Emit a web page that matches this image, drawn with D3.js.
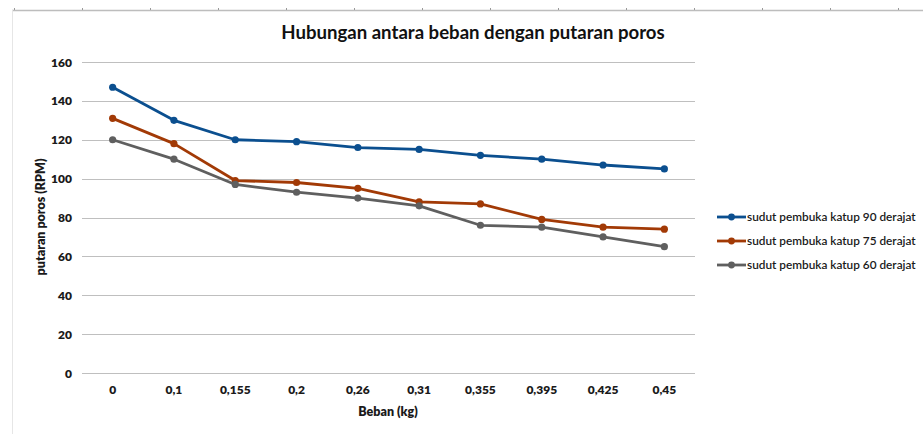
<!DOCTYPE html>
<html><head><meta charset="utf-8">
<script src="https://cdn.jsdelivr.net/npm/d3@7"></script>
<style>body{margin:0;background:#fff;font-family:Lato,"Open Sans",sans-serif;}</style>
</head><body>
<svg id="c" width="923" height="434"></svg>
<script>
const categories = ["0","0,1","0,155","0,2","0,26","0,31","0,355","0,395","0,425","0,45"];
const seriesNames = ["sudut pembuka katup 90 derajat","sudut pembuka katup 75 derajat","sudut pembuka katup 60 derajat"];
const s90 = [147,130,120,119,116,115,112,110,107,105];
const s75 = [131,118,99,98,95,88,87,79,75,74];
const s60 = [120,110,97,93,90,86,76,75,70,65];
const yTicks = [0,20,40,60,80,100,120,140,160];
const colors = ["#0b4f8f","#a23a06","#5f5f5f"];
const series = [s90,s75,s60];

const svg = d3.select("#c");
// sheet frame
svg.append("line").attr("x1",12).attr("x2",923).attr("y1",10.5).attr("y2",10.5).attr("stroke","#bdbdbd").attr("stroke-width",1.5);
svg.append("line").attr("x1",12.5).attr("x2",12.5).attr("y1",10).attr("y2",434).attr("stroke","#e6e6e6");
d3.range(14,923,68).forEach(x=>svg.append("line").attr("x1",x+0.5).attr("x2",x+0.5).attr("y1",8).attr("y2",10).attr("stroke","#999"));

const x = d3.scaleBand().domain(categories).range([82,695]);
const y = d3.scaleLinear().domain([0,160]).range([373,62]);

const grid = svg.append("g");
yTicks.forEach(t=>{
  grid.append("line").attr("x1",82).attr("x2",695).attr("y1",Math.round(y(t))+0.5).attr("y2",Math.round(y(t))+0.5)
    .attr("stroke","#bfbfbf").attr("stroke-width",1.2);
  svg.append("text").attr("x",72).attr("y",y(t)+4.5).attr("text-anchor","end")
    .attr("font-size",12).attr("font-weight",800).attr("fill","#1a1a1a").text(t);
});
categories.forEach(c=>{
  svg.append("text").attr("x",x(c)+x.bandwidth()/2).attr("y",394).attr("text-anchor","middle")
    .attr("font-size",12).attr("font-weight",800).attr("fill","#1a1a1a").text(c);
});

svg.append("text").attr("x",473).attr("y",39).attr("text-anchor","middle")
  .attr("font-size",18.6).attr("font-weight",700).attr("fill","#111").text("Hubungan antara beban dengan putaran poros");
svg.append("text").attr("x",388).attr("y",416).attr("text-anchor","middle")
  .attr("font-size",12.5).attr("font-weight",800).attr("fill","#1a1a1a").text("Beban (kg)");
svg.append("text").attr("transform","translate(45,217) rotate(-90)").attr("text-anchor","middle")
  .attr("font-size",12.5).attr("font-weight",800).attr("fill","#1a1a1a").text("putaran poros (RPM)");

const line = d3.line().x((d,i)=>x(categories[i])+x.bandwidth()/2).y(d=>y(d));
series.forEach((s,k)=>{
  svg.append("path").datum(s).attr("d",line).attr("fill","none").attr("stroke",colors[k]).attr("stroke-width",2.8).attr("stroke-linejoin","round");
  svg.selectAll(null).data(s).enter().append("circle")
    .attr("cx",(d,i)=>x(categories[i])+x.bandwidth()/2).attr("cy",d=>y(d)).attr("r",3.6).attr("fill",colors[k]);
});

seriesNames.forEach((n,k)=>{
  const ly = 217 + k*24;
  svg.append("line").attr("x1",717).attr("x2",746).attr("y1",ly).attr("y2",ly).attr("stroke",colors[k]).attr("stroke-width",2.8);
  svg.append("circle").attr("cx",731.5).attr("cy",ly).attr("r",3.4).attr("fill",colors[k]);
  svg.append("text").attr("x",747).attr("y",ly+4).attr("font-size",11.8).attr("font-weight",600).attr("fill","#1a1a1a").text(n);
});
</script>
</body></html>
